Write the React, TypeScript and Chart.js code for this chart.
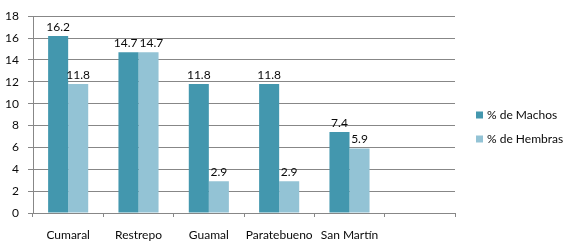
import React, { useEffect, useRef } from "react";
import { Chart, registerables } from "chart.js";

Chart.register(...registerables);

const categories = ["Cumaral", "Restrepo", "Guamal", "Paratebueno", "San Martín", ""];
const machos = [16.2, 14.7, 11.8, 11.8, 7.4, null];
const hembras = [11.8, 14.7, 2.9, 2.9, 5.9, null];
const seriesNames = ["% de Machos", "% de Hembras"];
const seriesColors = ["#4397AE", "#93C3D5"];

const FONT = "Lato";
const FS = 12;
const TEXT = "#0a0a0a";
const GRID = "#878787";

const valueLabels = {
  id: "valueLabels",
  afterDatasetsDraw(chart: any) {
    const ctx = chart.ctx;
    ctx.save();
    ctx.font = `${FS}px ${FONT}`;
    ctx.fillStyle = TEXT;
    ctx.textAlign = "center";
    ctx.textBaseline = "bottom";
    const n = chart.data.labels.length;
    for (let j = 0; j < n; j++) {
      const items: any[] = [];
      chart.data.datasets.forEach((ds: any, i: number) => {
        const v = ds.data[j];
        if (v == null) return;
        const bar = chart.getDatasetMeta(i).data[j];
        const text = v.toFixed(1);
        items.push({ text, x: bar.x, y: bar.y - 3, w: ctx.measureText(text).width });
      });
      for (let k = 1; k < items.length; k++) {
        const a = items[k - 1];
        const b = items[k];
        const overlap = (a.x + a.w / 2) - (b.x - b.w / 2) + 2;
        if (Math.abs(a.y - b.y) < FS && overlap > 0) {
          a.x -= overlap / 2;
          b.x += overlap / 2;
        }
      }
      items.forEach((it) => ctx.fillText(it.text, it.x, it.y));
    }
    ctx.restore();
  },
};

const sideLegend = {
  id: "sideLegend",
  afterDraw(chart: any) {
    const ctx = chart.ctx;
    ctx.save();
    ctx.font = `${FS}px ${FONT}`;
    ctx.textBaseline = "middle";
    ctx.textAlign = "left";
    chart.data.datasets.forEach((ds: any, i: number) => {
      const y = 115 + i * 24;
      ctx.fillStyle = ds.backgroundColor;
      ctx.fillRect(476, y - 3.5, 7, 7);
      ctx.fillStyle = TEXT;
      ctx.fillText(ds.label, 487, y);
    });
    ctx.restore();
  },
};

export default function App() {
  const ref = useRef<HTMLCanvasElement>(null);
  useEffect(() => {
    if (!ref.current) return;
    const chart = new Chart(ref.current, {
      type: "bar",
      data: {
        labels: categories,
        datasets: [
          { label: seriesNames[0], data: machos, backgroundColor: seriesColors[0] },
          { label: seriesNames[1], data: hembras, backgroundColor: seriesColors[1] },
        ],
      },
      plugins: [valueLabels, sideLegend],
      options: {
        responsive: false,
        animation: false,
        devicePixelRatio: 1,
        layout: { padding: { top: 12, right: 108, left: 0, bottom: 0 } },
        plugins: { legend: { display: false }, tooltip: { enabled: false } },
        datasets: { bar: { categoryPercentage: 0.57, barPercentage: 1.0 } },
        scales: {
          x: {
            offset: true,
            grid: { drawOnChartArea: false, drawTicks: true, tickLength: 4, color: GRID, offset: true },
            border: { color: GRID },
            ticks: { font: { family: FONT, size: FS }, color: TEXT, padding: 11, maxRotation: 0, autoSkip: false },
            afterFit: (s: any) => { s.height = 37; },
          },
          y: {
            min: 0,
            max: 18,
            ticks: { stepSize: 2, font: { family: FONT, size: FS }, color: TEXT, padding: 9 },
            grid: { color: GRID, tickLength: 5 },
            border: { color: GRID },
            afterFit: (s: any) => { s.width = 33; },
          },
        },
      },
    } as any);
    return () => chart.destroy();
  }, []);
  return (
    <div style={{ position: "absolute", left: 0, top: 0, width: 563, height: 250, background: "#fff" }}>
      <canvas ref={ref} width={563} height={250} style={{ display: "block" }} />
    </div>
  );
}
